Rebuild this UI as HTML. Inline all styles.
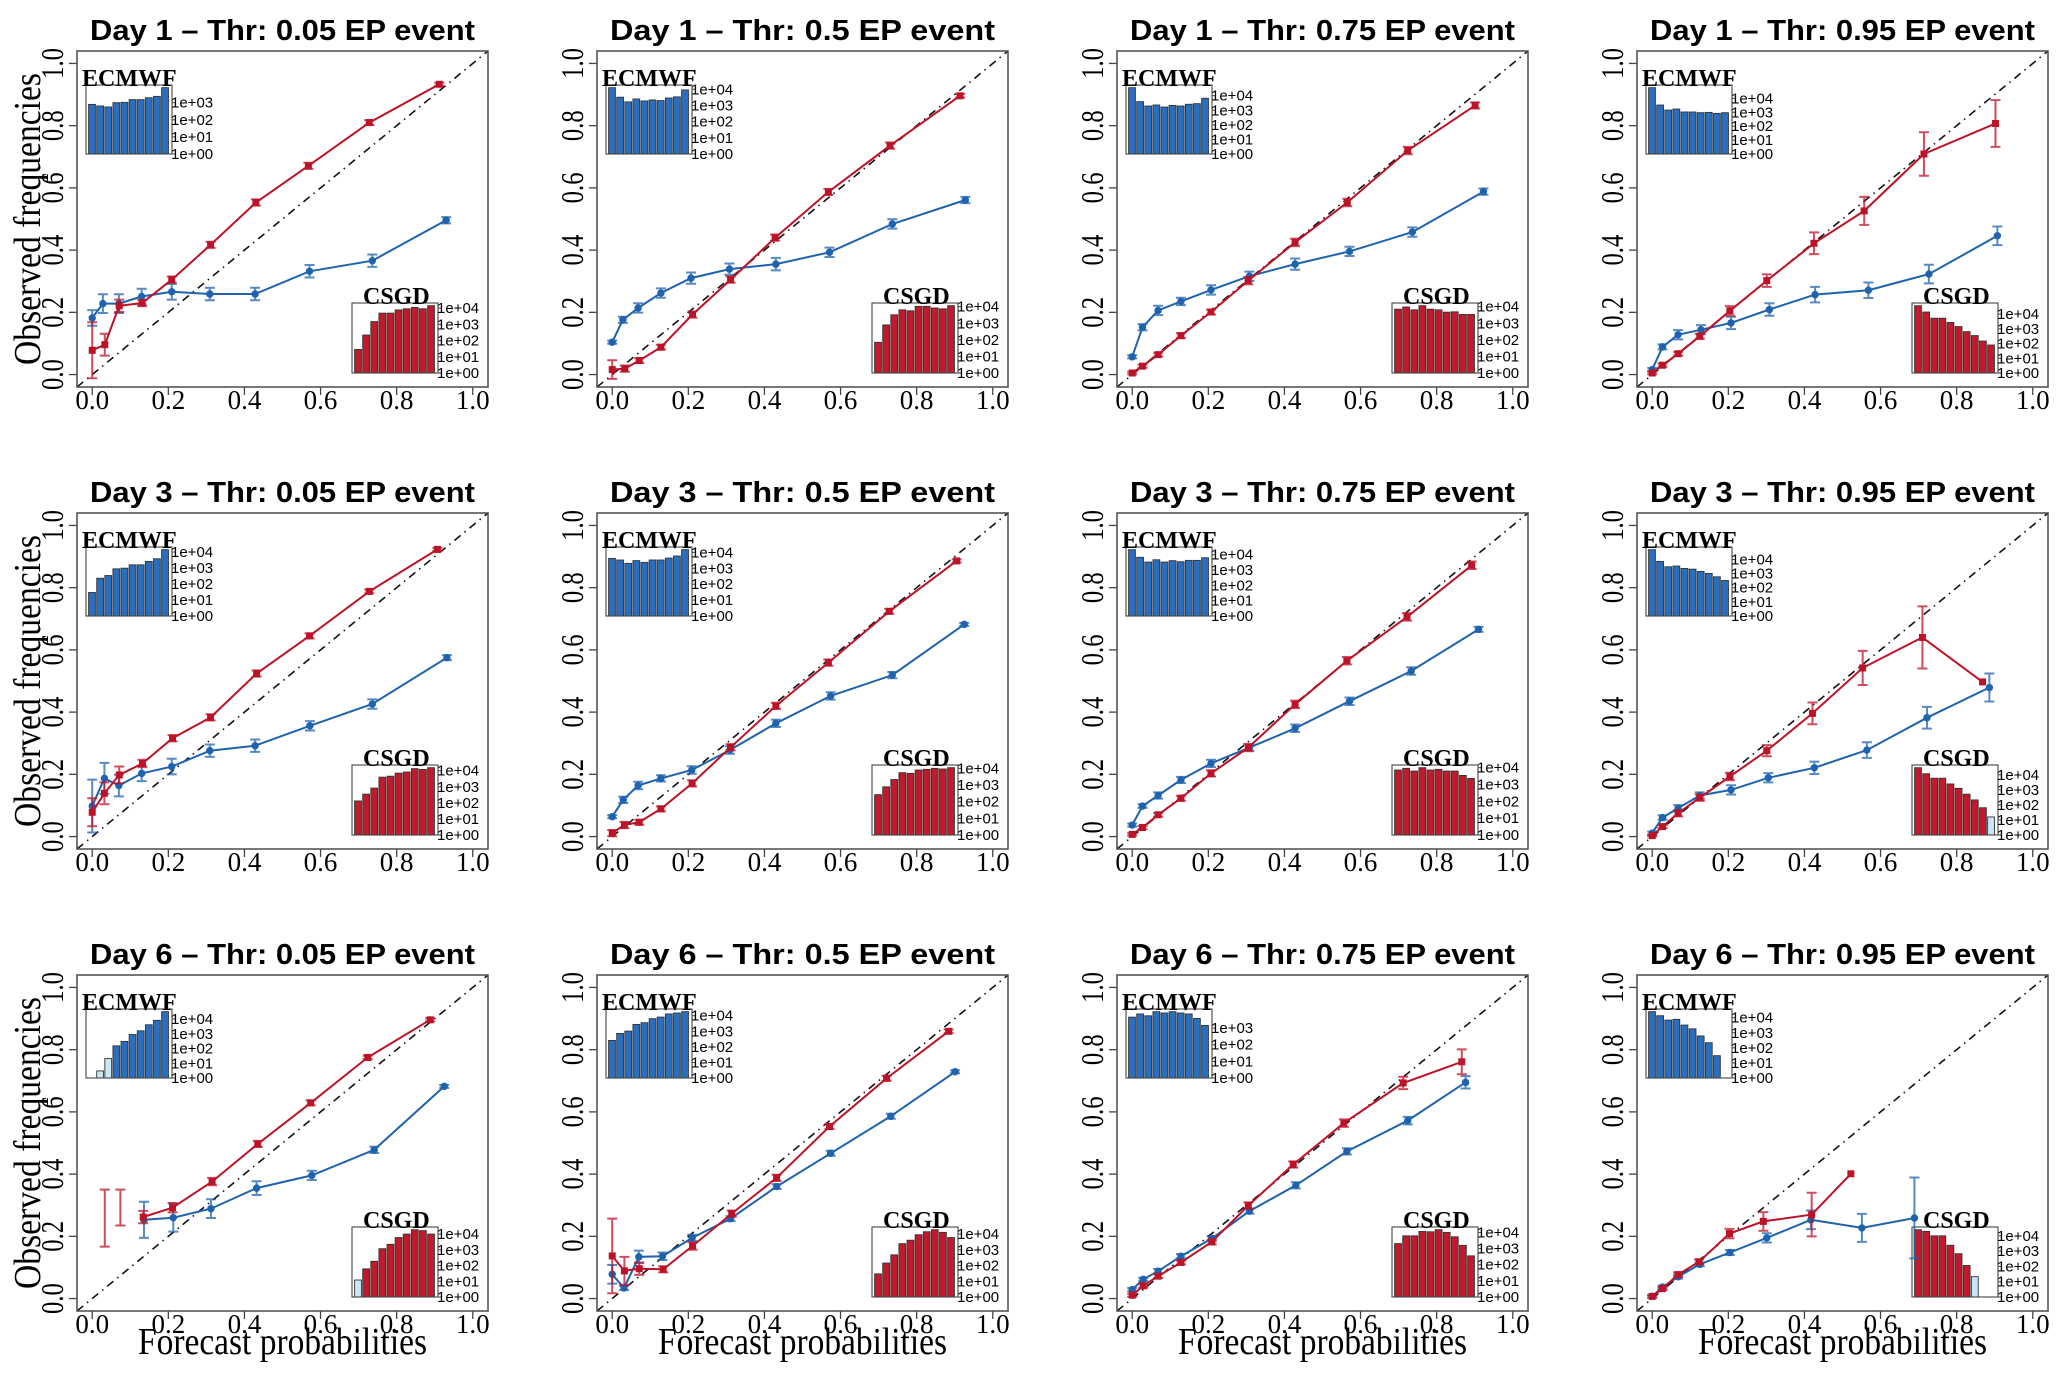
<!DOCTYPE html>
<html><head><meta charset="utf-8">
<style>
html,body{margin:0;padding:0;background:#fff;}
svg{display:block;}
</style></head>
<body>
<svg id="fig" xmlns="http://www.w3.org/2000/svg" width="2067" height="1381" viewBox="0 0 2067 1381"></svg>
<script>
const days = [1,1,1,1,3,3,3,3,6,6,6,6];
const thresholds = ["0.05","0.5","0.75","0.95","0.05","0.5","0.75","0.95","0.05","0.5","0.75","0.95"];
const yTicks = [0,0.2,0.4,0.6,0.8,1.0];
const xTicks = [0,0.2,0.4,0.6,0.8,1.0];
const tickLabels = ["0.0","0.2","0.4","0.6","0.8","1.0"];

const blueX = [
[0,.028,.070,.130,.209,.309,.428,.571,.736,.930],
[0,.028,.068,.128,.207,.308,.430,.571,.736,.928],
[0,.027,.068,.128,.207,.308,.428,.571,.736,.923],
[0,.027,.068,.128,.207,.308,.428,.568,.727,.907],
[0,.032,.070,.130,.209,.309,.428,.572,.736,.932],
[0,.029,.068,.128,.209,.309,.430,.574,.736,.925],
[0,.027,.068,.128,.207,.308,.428,.571,.733,.910],
[0,.027,.068,.125,.207,.305,.426,.564,.722,.886],
[.136,.213,.312,.432,.577,.741,.925],
[0,.031,.070,.132,.210,.311,.432,.574,.732,.901],
[0,.029,.068,.128,.209,.308,.430,.564,.724,.876],
[0,.027,.068,.125,.204,.301,.417,.551,.689]
];
const blueY = [
[.182,.228,.228,.251,.266,.259,.259,.332,.366,.496],
[.104,.176,.214,.262,.310,.339,.355,.393,.484,.561],
[.057,.152,.206,.235,.272,.316,.355,.396,.458,.588],
[.016,.089,.128,.144,.166,.209,.257,.271,.323,.446],
[.098,.187,.164,.203,.225,.276,.292,.356,.426,.575],
[.064,.118,.164,.187,.214,.278,.364,.452,.519,.682],
[.037,.098,.132,.182,.235,.286,.348,.435,.532,.666],
[.011,.061,.091,.132,.150,.189,.221,.278,.382,.479],
[.253,.260,.289,.355,.396,.478,.682],
[.078,.034,.134,.136,.195,.257,.360,.467,.586,.729],
[.029,.062,.088,.136,.193,.281,.364,.473,.572,.695],
[.007,.037,.070,.110,.148,.195,.253,.227,.259]
];
const blueErr = [
[.025,.03,.03,.025,.025,.02,.02,.02,.02,.01],
[.005,.01,.015,.015,.018,.018,.02,.015,.015,.01],
[.005,.01,.015,.012,.015,.015,.018,.015,.015,.01],
[.005,.008,.015,.015,.02,.02,.025,.025,.03,.03],
[.085,.05,.035,.025,.025,.02,.02,.015,.015,.008],
[.005,.01,.012,.01,.012,.012,.012,.012,.01,.005],
[.005,.006,.01,.01,.012,.01,.012,.012,.012,.008],
[.005,.007,.01,.01,.015,.015,.02,.025,.035,.045],
[.058,.045,.03,.022,.015,.01,.005],
[.03,.007,.02,.012,.01,.008,.008,.008,.008,.005],
[.005,.005,.007,.007,.008,.008,.01,.01,.012,.02],
[.004,.005,.006,.006,.008,.015,.03,.045,.13]
];
const redX = [
[0,.033,.071,.131,.209,.311,.430,.568,.728,.912],
[0,.033,.071,.128,.211,.311,.428,.568,.730,.914],
[0,.027,.068,.128,.207,.305,.428,.565,.724,.901],
[0,.027,.068,.125,.204,.301,.425,.557,.714,.902],
[0,.032,.071,.132,.211,.311,.432,.571,.728,.907],
[0,.032,.071,.128,.210,.311,.430,.568,.728,.905],
[0,.027,.068,.128,.207,.305,.428,.564,.722,.892],
[0,.027,.068,.125,.204,.301,.421,.553,.710,.868],
[.134,.211,.315,.435,.574,.724,.888],
[0,.032,.071,.134,.211,.314,.432,.571,.721,.884],
[0,.029,.068,.128,.209,.305,.423,.556,.712,.866],
[0,.027,.068,.123,.203,.292,.419,.522]
];
const redY = [
[.078,.096,.221,.230,.305,.417,.553,.671,.810,.933],
[.016,.019,.045,.088,.193,.305,.440,.587,.736,.896],
[.005,.027,.064,.125,.201,.302,.425,.553,.720,.865],
[.005,.030,.067,.123,.205,.302,.422,.526,.709,.807],
[.078,.139,.198,.235,.316,.383,.524,.645,.788,.923],
[.011,.037,.046,.089,.171,.287,.420,.559,.724,.886],
[.007,.029,.070,.123,.203,.286,.425,.565,.706,.872],
[.003,.032,.075,.125,.193,.276,.396,.542,.640,.497],
[.262,.292,.376,.497,.629,.775,.896],
[.137,.089,.096,.094,.169,.273,.388,.553,.708,.859],
[.011,.041,.072,.116,.182,.299,.431,.564,.693,.761],
[.007,.032,.077,.118,.209,.248,.270,.401]
];
const redErr = [
[.09,.035,.02,.01,.01,.01,.01,.01,.008,.005],
[.03,.01,.008,.008,.01,.01,.01,.01,.01,.006],
[.004,.005,.006,.008,.008,.012,.012,.012,.012,.01],
[.004,.005,.006,.008,.015,.02,.035,.045,.07,.075],
[.045,.035,.027,.012,.01,.01,.01,.008,.006,.005],
[.01,.01,.008,.008,.01,.01,.01,.01,.008,.005],
[.004,.005,.006,.008,.01,.012,.012,.012,.012,.012],
[.003,.005,.01,.01,.012,.018,.035,.055,.1,0],
[.02,.015,.012,.01,.008,.006,.005],
[.12,.045,.02,.01,.012,.01,.01,.008,.008,.006],
[.005,.006,.006,.006,.008,.01,.01,.012,.02,.04],
[.004,.005,.007,.008,.015,.03,.07,0]
];
const orphanX = [[],[],[],[],[],[],[],[],[.033,.074],[],[],[]];
const orphanLo = [[],[],[],[],[],[],[],[],[.167,.235],[],[],[]];
const orphanHi = [[],[],[],[],[],[],[],[],[.35,.35],[],[],[]];

const ecmwfLog = [
[2.90,2.81,2.75,3.00,3.02,3.18,3.18,3.29,3.37,3.88],
[4.10,3.51,3.22,3.40,3.28,3.34,3.30,3.46,3.53,3.96],
[4.55,3.59,3.29,3.36,3.22,3.33,3.29,3.41,3.45,3.82],
[4.77,3.52,3.16,3.23,3.02,3.02,2.97,2.99,2.92,2.97],
[1.47,2.36,2.53,2.95,2.99,3.20,3.20,3.41,3.58,4.15],
[3.62,3.52,3.31,3.48,3.37,3.52,3.52,3.64,3.77,4.17],
[4.33,3.83,3.52,3.67,3.52,3.61,3.54,3.63,3.63,3.80],
[4.69,3.86,3.48,3.53,3.36,3.31,3.15,3.01,2.77,2.51],
[0,0.48,1.32,2.18,2.48,2.95,3.20,3.61,3.91,4.50],
[2.41,2.86,3.01,3.44,3.55,3.81,3.91,4.11,4.17,4.26],
[3.66,3.85,3.74,3.99,3.91,3.99,3.91,3.85,3.58,3.16],
[4.40,4.13,3.84,3.89,3.51,3.26,2.79,2.34,1.48,0]
];
const csgdLog = [
[1.45,2.34,3.17,3.69,3.69,3.89,3.96,4.04,3.96,4.15],
[1.85,2.90,3.51,3.81,3.75,4.02,4.02,3.92,3.87,4.06],
[3.85,3.98,3.81,4.06,3.85,3.81,3.67,3.69,3.53,3.53],
[4.57,4.14,3.72,3.72,3.43,3.15,2.81,2.54,2.17,1.90],
[2.12,2.54,2.92,3.60,3.66,3.85,3.92,4.13,4.08,4.19],
[2.42,2.89,3.33,3.74,3.70,3.90,3.94,4.00,3.96,4.04],
[3.86,3.96,3.80,4.00,3.86,3.90,3.80,3.80,3.54,3.36],
[4.47,4.07,3.77,3.77,3.39,3.10,2.71,2.33,1.81,1.20],
[1.08,1.79,2.27,3.07,3.35,3.78,4.00,4.28,4.22,4.00],
[1.47,2.16,2.68,3.39,3.61,3.96,4.15,4.28,4.11,3.78],
[3.31,3.79,3.79,4.06,4.04,4.17,4.00,3.73,3.20,2.55],
[4.40,4.29,4.00,4.00,3.38,2.83,2.06,1.33,0,0]
];

const NS = "http://www.w3.org/2000/svg";
const svg = document.getElementById("fig");
const BLUE = "#1f62ad", RED = "#bd1328", BLUE_BAR = "#2a6fbf", RED_BAR = "#c01a2c", LIGHT = "#c9e6f5";
function mk(tag, attrs, parent) {
  const e = document.createElementNS(NS, tag);
  for (const k in attrs) e.setAttribute(k, attrs[k]);
  (parent || svg).appendChild(e);
  return e;
}
const W = 411, H = 336;
for (let p = 0; p < 12; p++) {
  const r = Math.floor(p / 4), c = p % 4;
  const L = 77 + 520 * c, T = 51 + 462 * r;
  const sx = v => L + (v + 0.04) / 1.08 * W;
  const sy = v => T + H - (v + 0.04) / 1.08 * H;
  const g = mk("g", {});
  
  

  const title = mk("text", {x: L + W / 2, y: T - 11, "text-anchor": "middle", "font-family": "Liberation Sans, sans-serif", "font-weight": "bold", "font-size": 29, textLength: 385, lengthAdjust: "spacingAndGlyphs"}, g);
  title.textContent = "Day " + days[p] + " \u2013 Thr: " + thresholds[p] + " EP event";
  
  

  const diag = mk("line", {x1: L, y1: T + H, x2: L + W, y2: T, stroke: "#111", "stroke-width": 1.6, "stroke-dasharray": "8 5 1.5 5"}, g);
  
  

  const ya = mk("g", {}, g);
  
  
  yTicks.forEach((v, i) => {
    mk("line", {x1: L - 8, x2: L, y1: sy(v), y2: sy(v), stroke: "#444", "stroke-width": 1.3}, ya);
    const t = mk("text", {x: 0, y: 0, "text-anchor": "middle", "font-family": "Liberation Serif, serif", "font-size": 26,
      transform: "translate(" + (L - 14) + "," + sy(v) + ") rotate(-90) scale(0.95,1.2)"}, ya);
    t.textContent = tickLabels[i];
    
    
  });
  const xa = mk("g", {}, g);
  
  
  xTicks.forEach((v, i) => {
    mk("line", {x1: sx(v), x2: sx(v), y1: T + H, y2: T + H + 8, stroke: "#444", "stroke-width": 1.3}, xa);
    const t = mk("text", {x: sx(v), y: T + H + 22, "text-anchor": "middle", "font-family": "Liberation Serif, serif", "font-size": 27}, xa);
    t.textContent = tickLabels[i];
    
    
  });

  function inset(vals, bx, by, bw, bh, name, barColor, label, labelX) {
    const ig = mk("g", {}, g);
    
    
    const mx = Math.max(...vals);
    const top = mx * 1.04;
    const per = bh / top;
    const slot = bw / 10.6;
    vals.forEach((v, i) => {
      if (v <= 0) return;
      const b = mk("rect", {x: bx + 2.6 + i * slot, y: by + bh - v * per, width: slot * 0.84, height: v * per,
        fill: v < 1.4 ? LIGHT : barColor, stroke: "#333", "stroke-width": 0.9}, ig);
      
      
    });
    mk("rect", {x: bx, y: by, width: bw, height: bh, fill: "none", stroke: "#444", "stroke-width": 1.1}, ig);
    for (let k = 0; k <= Math.floor(mx + 1e-9); k++) {
      const yy = by + bh - k * per;
      mk("line", {x1: bx + bw, x2: bx + bw + 3, y1: yy, y2: yy, stroke: "#444", "stroke-width": 1}, ig);
      const t = mk("text", {x: bx + bw - 1, y: yy + 5, "font-family": "Liberation Sans, sans-serif", "font-size": 15}, ig);
      t.textContent = "1e+0" + k;
      
      
    }
    const lt = mk("text", {x: labelX, y: by + 1, "font-family": "Liberation Serif, serif", "font-weight": "bold", "font-size": 24}, ig);
    lt.textContent = label;
    
    
  }
  inset(ecmwfLog[p], L + 9, T + 34, 86, 69, "ecmwf-histogram", BLUE_BAR, "ECMWF", L + 5);
  inset(csgdLog[p], L + 275, T + 252, 86, 70, "csgd-histogram", RED_BAR, "CSGD", L + 286);

  function series(xs, ys, es, color, isRed, name) {
    const sg = mk("g", {}, g);
    
    
    const pts = xs.map((x, i) => sx(x).toFixed(1) + "," + sy(ys[i]).toFixed(1)).join(" ");
    const ln = mk("polyline", {points: pts, fill: "none", stroke: color, "stroke-width": 2}, sg);
    
    
    xs.forEach((x, i) => {
      const X = sx(x), Y = sy(ys[i]);
      if (es[i] > 0) {
        const y1 = sy(ys[i] + es[i]), y2 = sy(ys[i] - es[i]);
        const eb = mk("path", {d: "M" + X + "," + y1 + "V" + y2 + "M" + (X - 5) + "," + y1 + "H" + (X + 5) + "M" + (X - 5) + "," + y2 + "H" + (X + 5),
          stroke: color, "stroke-width": 2, "stroke-opacity": 0.75, fill: "none"}, sg);
        
        
      }
      let m;
      if (isRed) m = mk("rect", {x: X - 3.5, y: Y - 3.5, width: 7, height: 7, fill: color}, sg);
      else m = mk("circle", {cx: X, cy: Y, r: 3.7, fill: color}, sg);
      
      
    });
  }
  series(blueX[p], blueY[p], blueErr[p], BLUE, false, "ecmwf-series");
  series(redX[p], redY[p], redErr[p], RED, true, "csgd-series");
  orphanX[p].forEach((x, i) => {
    const X = sx(x), y1 = sy(orphanHi[p][i]), y2 = sy(orphanLo[p][i]);
    const eb = mk("path", {d: "M" + X + "," + y1 + "V" + y2 + "M" + (X - 5) + "," + y1 + "H" + (X + 5) + "M" + (X - 5) + "," + y2 + "H" + (X + 5),
      stroke: RED, "stroke-width": 2, "stroke-opacity": 0.75, fill: "none"}, g);
    
    
  });

  const fr = mk("rect", {x: L, y: T, width: W, height: H, fill: "none", stroke: "#555", "stroke-width": 1.6}, g);
  
  

  if (c === 0) {
    const yt = mk("text", {x: 0, y: 0, "text-anchor": "middle", "font-family": "Liberation Serif, serif", "font-size": 38, textLength: 292, lengthAdjust: "spacingAndGlyphs",
      transform: "translate(40," + (T + H / 2) + ") rotate(-90)"}, g);
    yt.textContent = "Observed frequencies";
    
    
  }
  if (r === 2) {
    const xt = mk("text", {x: L + W / 2, y: T + H + 43, "text-anchor": "middle", "font-family": "Liberation Serif, serif", "font-size": 38, textLength: 289, lengthAdjust: "spacingAndGlyphs"}, g);
    xt.textContent = "Forecast probabilities";
    
    
  }
}
</script>
</body></html>
